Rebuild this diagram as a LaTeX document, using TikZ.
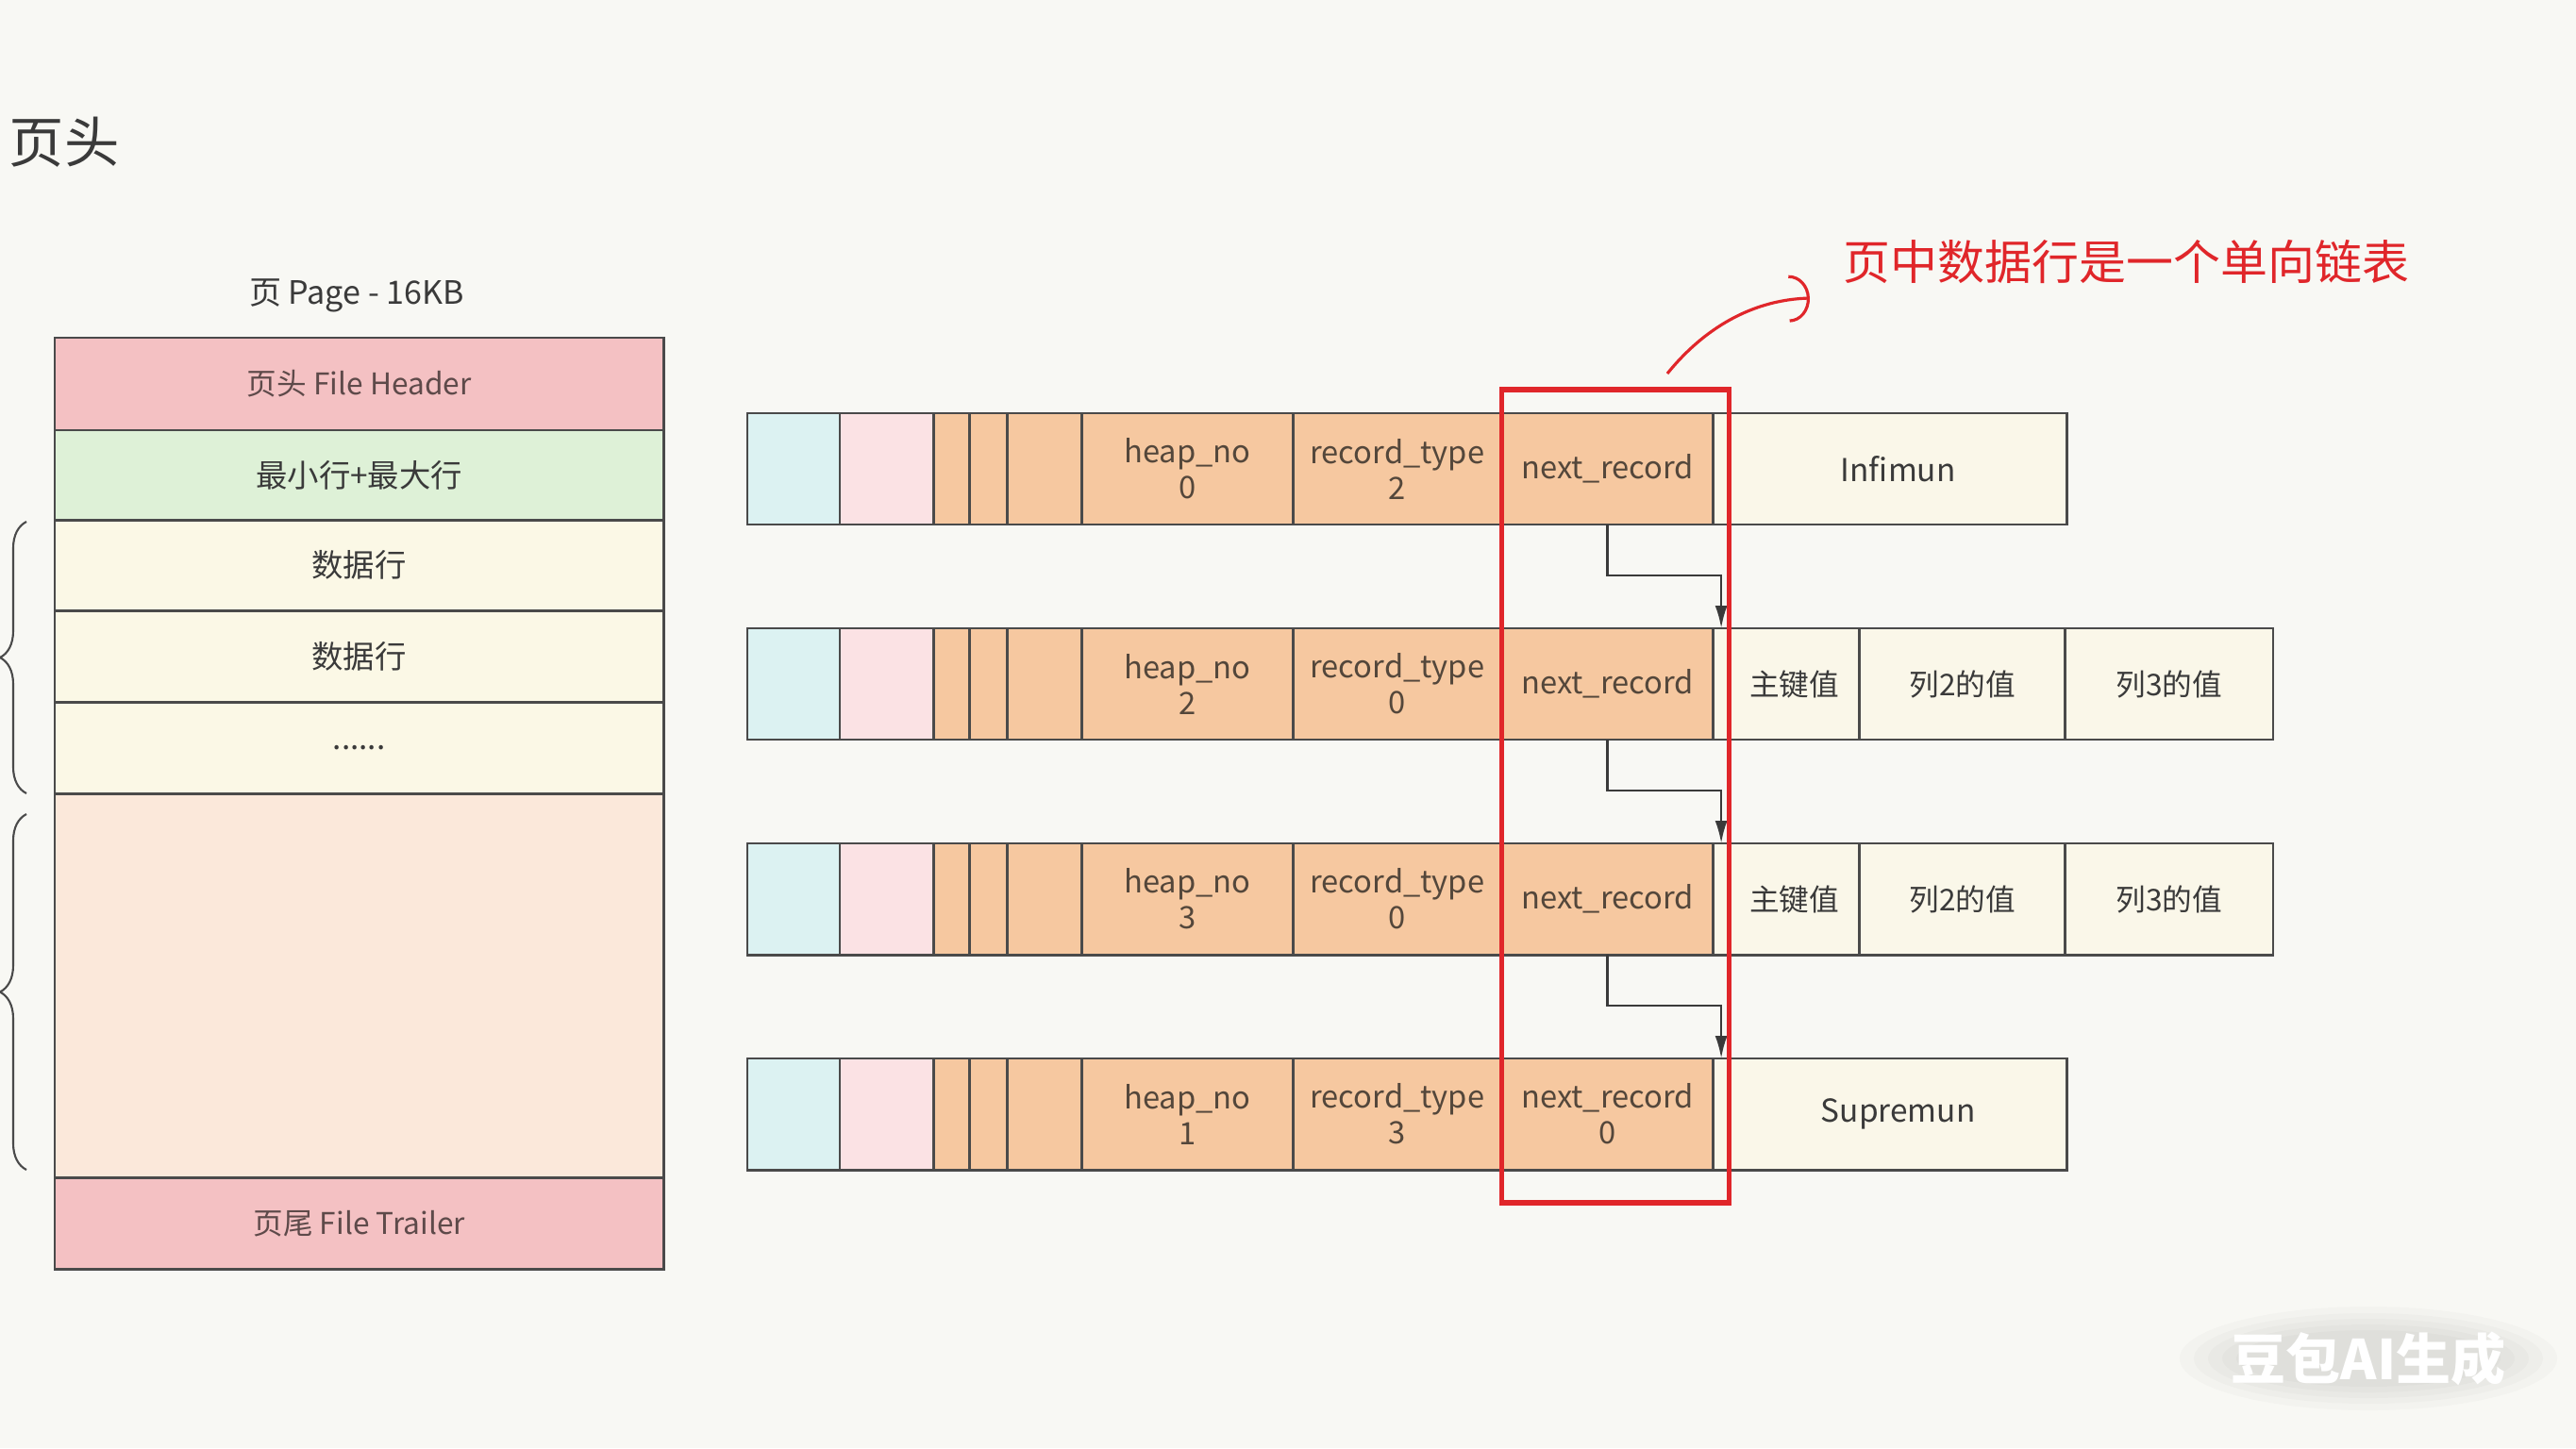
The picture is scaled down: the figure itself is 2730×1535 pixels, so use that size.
\documentclass[tikz,border=0pt]{standalone}
\usepackage{fontspec}
\setmainfont{Noto Sans CJK SC}
\usetikzlibrary{positioning,arrows.meta,decorations.pathreplacing}

\definecolor{sfondo}{HTML}{F8F8F4}
\definecolor{linea}{HTML}{4A4A4A}
\definecolor{scuro}{HTML}{3A3A3A}
\definecolor{testo}{HTML}{54473B}
\definecolor{grigiorosso}{HTML}{5E4A4A}
\definecolor{ciano}{HTML}{DCF2F2}
\definecolor{rosa}{HTML}{FBE2E4}
\definecolor{arancio}{HTML}{F6C8A0}
\definecolor{crema}{HTML}{FAF7E9}
\definecolor{testata}{HTML}{F4C1C3}
\definecolor{verde}{HTML}{DEF1D7}
\definecolor{cremariga}{HTML}{FBF8E6}
\definecolor{pesca}{HTML}{FBE8DA}
\definecolor{rosso}{HTML}{E0262A}

\tikzset{
    cella/.style={draw=linea, line width=0.8pt, fill=arancio, inner sep=0pt, outer sep=0pt,
        minimum height=1.18cm, anchor=north west, align=center, text=testo,
        font=\fontsize{9.3}{10.8}\selectfont},
    valore/.style={cella, fill=crema, text=scuro, font=\fontsize{9}{10.8}\selectfont},
    blocco/.style={draw=linea, line width=0.8pt, inner sep=0pt, outer sep=0pt,
        minimum width=6.45cm, text=scuro, font=\fontsize{9.5}{11}\selectfont},
    freccia/.style={draw=scuro, line width=0.7pt, -{Latex[length=0.24cm,width=0.13cm]}},
    graffa/.style={draw=linea, line width=0.6pt, decorate, decoration={brace, amplitude=0.28cm}},
}

\begin{document}
\begin{tikzpicture}[x=0.01cm, y=-0.01cm]
% Sfondo
\fill[sfondo] (0,0) rectangle (2730,1535);
\useasboundingbox (0,0) rectangle (2730,1535);

% Titolo
\node[anchor=west, inner sep=0pt, text=scuro, font=\fontsize{16.6}{20}\selectfont] (titolo) at (9,151) {页头};

% Pagina 16KB
\node[text=scuro, font=\fontsize{9.7}{11}\selectfont] (pagina) at (378,313) {页 Page - 16KB};
\node[blocco, fill=testata, minimum height=0.98cm, anchor=north west, text=grigiorosso, font=\fontsize{9}{11}\selectfont] (testa) at (58,358) {页头 File Header};
\node[blocco, fill=verde, minimum height=0.95cm, below=0pt of testa] (minmax) {最小行+最大行};
\node[blocco, fill=cremariga, minimum height=0.96cm, below=0pt of minmax] (dati1) {数据行};
\node[blocco, fill=cremariga, minimum height=0.97cm, below=0pt of dati1] (dati2) {数据行};
\node[blocco, fill=cremariga, minimum height=0.97cm, below=0pt of dati2] (altri) {......};
\node[blocco, fill=pesca, minimum height=4.07cm, below=0pt of altri] (libero) {};
\node[blocco, fill=testata, minimum height=0.97cm, below=0pt of libero, text=grigiorosso, font=\fontsize{9}{11}\selectfont] (coda) {页尾 File Trailer};

% Graffe
\draw[graffa] (28,841) -- (28,553);
\draw[graffa] (28,1240) -- (28,863);

% Record
\foreach \idx/\posy/\hn/\rt/\nr in {1/438/0/2/{next\_record},2/666/2/0/{next\_record},3/894/3/0/{next\_record},4/1122/1/3/{next\_record\\0}}{
    \node[cella, fill=ciano, minimum width=0.98cm] (ciano\idx) at (792,\posy) {};
    \node[cella, fill=rosa, minimum width=0.99cm, right=0pt of ciano\idx] (rosa\idx) {};
    \node[cella, minimum width=0.38cm, right=0pt of rosa\idx] (bit\idx) {};
    \node[cella, minimum width=0.40cm, right=0pt of bit\idx] (info\idx) {};
    \node[cella, minimum width=0.79cm, right=0pt of info\idx] (owned\idx) {};
    \node[cella, minimum width=2.24cm, right=0pt of owned\idx] (heap\idx) {heap\_no\\\hn};
    \node[cella, minimum width=2.21cm, right=0pt of heap\idx] (tipo\idx) {record\_type\\\rt};
    \node[cella, minimum width=2.24cm, right=0pt of tipo\idx] (next\idx) {\nr};
    \node[valore, minimum width=0.17cm, right=0pt of next\idx] (origine\idx) {};
}

% Valori delle righe
\node[valore, minimum width=3.58cm, right=0pt of origine1, font=\fontsize{9.5}{11}\selectfont] (infimum) {Infimun};
\foreach \idx in {2,3}{
    \node[valore, minimum width=1.38cm, right=0pt of origine\idx] (chiave\idx) {主键值};
    \node[valore, minimum width=2.18cm, right=0pt of chiave\idx] (col2\idx) {列2的值};
    \node[valore, minimum width=2.20cm, right=0pt of col2\idx] (col3\idx) {列3的值};
}
\node[valore, minimum width=3.58cm, right=0pt of origine4, font=\fontsize{9.5}{11}\selectfont] (supremum) {Supremun};

% Frecce next_record
\foreach \a/\b in {1/2,2/3,3/4}
    \draw[freccia] (next\a.south) -- ++(0,54) -| (origine\b.north);

% Riquadro rosso
\draw[rosso, line width=1.5pt] ([yshift=0.25cm]next1.north west) rectangle ([yshift=-0.35cm]origine4.south east);

% Nota
\node[anchor=west, inner sep=0pt, text=rosso, font=\fontsize{14.2}{16}\selectfont] (nota) at (1953,278) {页中数据行是一个单向链表};
\coordinate (spunto) at (1767,396);
\draw[rosso, line width=0.9pt, -{Arc Barb[length=0.22cm, width=0.5cm]}] (spunto) .. controls (1800,355) and (1850,318) .. ([xshift=-0.35cm, yshift=-0.38cm]nota.west);

% Filigrana
\foreach \ra/\rb in {2.0/0.55,1.85/0.48,1.7/0.42,1.55/0.36,1.4/0.3}
    \fill[black, opacity=0.018] (2510,1440) ellipse (\ra cm and \rb cm);
\node[text=white, font=\bfseries\fontsize{16.5}{20}\selectfont] (filigrana) at (2510,1440) {豆包AI生成};

\end{tikzpicture}
\end{document}
